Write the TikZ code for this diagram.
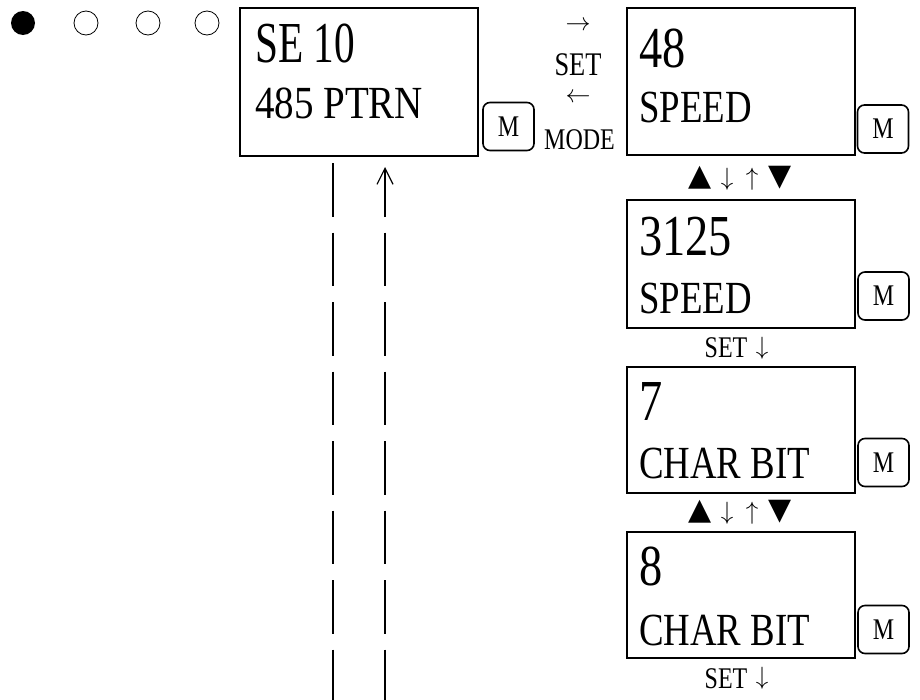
\documentclass[tikz,border=0pt]{standalone}
\usepackage{graphicx}
\usepackage{fontspec}
\setmainfont{Liberation Serif}[FakeStretch=0.8]
\newfontfamily\symfont{DejaVu Sans}
\usetikzlibrary{arrows.meta}
\newcommand{\myarr}[1]{\scalebox{2.5}{$#1$}}
\tikzset{
  lcd/.style={draw, line width=2pt, minimum width=228pt, inner sep=0, anchor=north west},
  big/.style={font=\fontsize{58}{60}\selectfont, anchor=base west, inner sep=0},
  small/.style={font=\fontsize{46}{48}\selectfont, anchor=base west, inner sep=0},
  mkey/.style={draw, line width=1.6pt, rounded corners=7pt, minimum width=51pt, minimum height=48pt, inner sep=0, font=\fontsize{30}{32}\selectfont},
  lbl/.style={font=\fontsize{30}{32}\selectfont, inner sep=0, text depth=0pt},
  arr/.style={font=\fontsize{10}{12}\selectfont, inner sep=0},
  tri/.style={font=\symfont\fontsize{30}{32}\selectfont, inner sep=0},
  conn/.style={line width=2pt, dash pattern=on 53.5pt off 16pt},
  dot/.style={circle, minimum size=24pt, inner sep=0},
}
\begin{document}
\begin{tikzpicture}[x=1pt, y=-1pt]
\useasboundingbox (0,0) rectangle (920,699);
% indicator dots
\node[dot, fill=black] (d1) at (23,23) {};
\node[dot, draw, line width=0.8pt] (d2) at (86,23) {};
\node[dot, draw, line width=0.8pt] (d3) at (148,23) {};
\node[dot, draw, line width=0.8pt] (d4) at (207,23) {};
% main box
\node[lcd, minimum width=238pt, minimum height=148pt] (b1) at (239,7) {};
\node[big, xscale=0.89, transform shape] (b1a) at (255,62) {SE 10};
\node[small, xscale=1.06, transform shape] (b1b) at (255,118) {485 PTRN};
\node[mkey] (m1) at (508.5,126.5) {M};
% set / mode
\node[arr] (ar1) at (578,26) {\myarr{\rightarrow}};
\node[lbl, anchor=base, font=\fontsize{33}{35}\selectfont] (set1) at (578,75) {SET};
\node[arr] (ar2) at (578,98) {\myarr{\leftarrow}};
\node[lbl, anchor=base] (mode1) at (579.5,149) {MODE};
% box 2
\node[lcd, minimum height=147pt] (b2) at (626,7) {};
\node[big] (b2a) at (639,67) {48};
\node[small] (b2b) at (639,122) {SPEED};
\node[mkey] (m2) at (883,129) {M};
\node[tri] (t1) at (700.5,178) {▲};
\node[arr] (t2) at (727,179) {\myarr{\downarrow}};
\node[arr] (t3) at (752,179) {\myarr{\uparrow}};
\node[tri] (t4) at (780,178) {▼};
% box 3
\node[lcd, minimum height=128pt] (b3) at (626,199) {};
\node[big] (b3a) at (639,255) {3125};
\node[small] (b3b) at (639,313) {SPEED};
\node[mkey] (m3) at (883.5,296) {M};
\node[lbl, anchor=base] (s3) at (726,357) {SET};
\node[arr] (s3a) at (762,348) {\myarr{\downarrow}};
% box 4
\node[lcd, minimum height=126pt] (b4) at (626,366) {};
\node[big] (b4a) at (639,420) {7};
\node[small] (b4b) at (639,478) {CHAR BIT};
\node[mkey] (m4) at (883.5,462.5) {M};
\node[tri] (u1) at (700.5,512) {▲};
\node[arr] (u2) at (727,513) {\myarr{\downarrow}};
\node[arr] (u3) at (752,513) {\myarr{\uparrow}};
\node[tri] (u4) at (780,512) {▼};
% box 5
\node[lcd, minimum height=126pt] (b5) at (626,531) {};
\node[big] (b5a) at (639,585) {8};
\node[small] (b5b) at (639,645) {CHAR BIT};
\node[mkey] (m5) at (883.5,629.5) {M};
\node[lbl, anchor=base] (s5) at (726,688) {SET};
\node[arr] (s5a) at (762,678) {\myarr{\downarrow}};
% connectors down from main box
\coordinate (l1top) at (333,163);
\coordinate (l1bot) at (333,705);
\draw[conn] (l1top) -- (l1bot);
\coordinate (r1arr) at (385,217);
\coordinate (r1tip) at (385,167);
\draw[line width=1.2pt, -{Straight Barb[length=16pt,width=16pt]}] (r1arr) -- (r1tip);
\coordinate (r1top) at (385,232.5);
\coordinate (r1bot) at (385,705);
\draw[conn] (r1top) -- (r1bot);
\end{tikzpicture}
\end{document}
